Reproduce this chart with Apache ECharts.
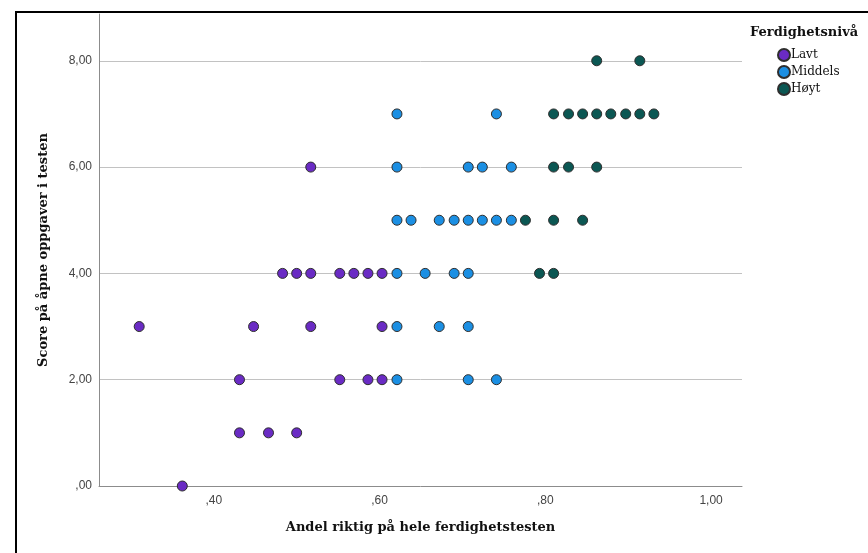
<!DOCTYPE html>
<html>
<head>
<meta charset="utf-8">
<script src="https://cdn.jsdelivr.net/npm/echarts@6/dist/echarts.min.js"></script>
<style>
  html, body { margin: 0; padding: 0; background: #ffffff; }
  #chart { width: 868px; height: 553px; }
</style>
</head>
<body>
<div id="chart"></div>
<script>
// Andel riktig (x) og score på åpne oppgaver (y), per ferdighetsnivå
const lavt = [
  [0.517, 6],
  [0.483, 4], [0.500, 4], [0.517, 4], [0.552, 4], [0.569, 4], [0.586, 4], [0.603, 4],
  [0.310, 3], [0.448, 3], [0.517, 3], [0.603, 3],
  [0.431, 2], [0.552, 2], [0.586, 2], [0.603, 2],
  [0.431, 1], [0.466, 1], [0.500, 1],
  [0.362, 0]
];
const middels = [
  [0.621, 7], [0.741, 7],
  [0.621, 6], [0.707, 6], [0.724, 6], [0.759, 6],
  [0.621, 5], [0.638, 5], [0.672, 5], [0.690, 5], [0.707, 5], [0.724, 5], [0.741, 5], [0.759, 5],
  [0.621, 4], [0.655, 4], [0.690, 4], [0.707, 4],
  [0.621, 3], [0.672, 3], [0.707, 3],
  [0.621, 2], [0.707, 2], [0.741, 2]
];
const hoyt = [
  [0.862, 8], [0.914, 8],
  [0.810, 7], [0.828, 7], [0.845, 7], [0.862, 7], [0.879, 7], [0.897, 7], [0.914, 7], [0.931, 7],
  [0.810, 6], [0.828, 6], [0.862, 6],
  [0.776, 5], [0.810, 5], [0.845, 5],
  [0.793, 4], [0.810, 4]
];
const xTicks = [0.4, 0.6, 0.8, 1.0];
const yTicks = [0, 2, 4, 6, 8];
const groupNames = ['Lavt', 'Middels', 'Høyt'];
const groupColors = ['#6a2bc4', '#1b8fe3', '#0b5753'];

// SPSS-style number labels: ",40", "1,00", "8,00"
function fmt(v) {
  const s = Number(v).toFixed(2).replace('.', ',');
  return s.charAt(0) === '0' ? s.slice(1) : s;
}

const serif = '"DejaVu Serif", serif';
const sans = '"Liberation Sans", Arial, sans-serif';

const chart = echarts.init(document.getElementById('chart'), null, { renderer: 'canvas' });

const seriesData = [lavt, middels, hoyt];

chart.setOption({
  animation: false,
  backgroundColor: '#ffffff',
  grid: { left: 99, right: 126, top: 14, bottom: 67, containLabel: false },
  xAxis: {
    type: 'value',
    min: 0.2615,
    max: 1.0373,
    name: 'Andel riktig på hele ferdighetstesten',
    nameLocation: 'middle',
    nameGap: 35,
    nameTextStyle: { fontFamily: serif, fontWeight: 'bold', fontSize: 13, color: '#111' },
    axisLine: { show: true, onZero: false, lineStyle: { color: '#8c8c8c', width: 1 } },
    axisTick: { show: false },
    splitLine: { show: false },
    axisLabel: {
      customValues: xTicks,
      formatter: fmt,
      margin: 9,
      fontFamily: sans, fontSize: 12, color: '#444'
    }
  },
  yAxis: {
    type: 'value',
    min: 0,
    max: 8.88,
    interval: 2,
    name: 'Score på åpne oppgaver i testen',
    nameLocation: 'middle',
    nameGap: 49,
    nameTextStyle: { fontFamily: serif, fontWeight: 'bold', fontSize: 13, color: '#111' },
    axisLine: { show: true, onZero: false, lineStyle: { color: '#8c8c8c', width: 1 } },
    axisTick: { show: false },
    splitLine: { show: true, showMinLine: false, showMaxLine: false, lineStyle: { color: '#c2c2c2', width: 1 } },
    axisLabel: {
      customValues: yTicks,
      formatter: fmt,
      margin: 7,
      fontFamily: sans, fontSize: 12, color: '#444'
    }
  },
  legend: {
    orient: 'vertical',
    left: 772,
    top: 43,
    itemWidth: 12,
    itemHeight: 12,
    itemGap: 3,
    icon: 'circle',
    data: groupNames,
    textStyle: { fontFamily: serif, fontSize: 12, color: '#111', padding: [0, 0, 0, -4] }
  },
  graphic: [
    {
      type: 'text',
      left: 750,
      top: 26,
      style: { text: 'Ferdighetsnivå', font: 'bold 13px "DejaVu Serif", serif', fill: '#111' }
    },
    {
      type: 'rect',
      shape: { x: 16, y: 12, width: 900, height: 600 },
      style: { fill: 'none', stroke: '#000', lineWidth: 2 },
      silent: true
    }
  ],
  series: seriesData.map((d, i) => ({
    name: groupNames[i],
    type: 'scatter',
    data: d,
    symbol: 'circle',
    symbolSize: 10,
    itemStyle: { color: groupColors[i], borderColor: '#2e2e2e', borderWidth: 1, opacity: 1 },
    emphasis: { disabled: true }
  }))
});
</script>
</body>
</html>
